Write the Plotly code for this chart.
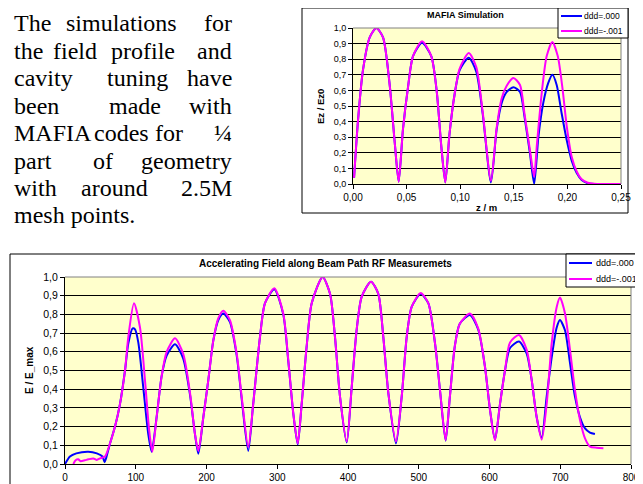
import plotly.graph_objects as go

# The page body has an 8px margin; the figure fills the rest of the 643x484 window.
PAGE_OFF = 8
W, H = 643 - PAGE_OFF, 484 - PAGE_OFF

# ---------------- data: MAFIA simulation (top chart) ----------------
sim_z_blue = [0.001, 0.0047, 0.0093, 0.0156, 0.0218, 0.028, 0.034, 0.039, 0.0426, 0.0466, 0.0513, 0.056,
              0.0644, 0.073, 0.078, 0.0824, 0.0861, 0.090, 0.0949, 0.0995, 0.108, 0.115, 0.121, 0.1287,
              0.134, 0.1387, 0.1434, 0.1496, 0.1558, 0.160, 0.165, 0.169, 0.1729, 0.1775, 0.182, 0.186,
              0.190, 0.1947, 0.1994, 0.204, 0.2087, 0.2133, 0.219, 0.225, 0.25]
sim_e_blue = [0.04, 0.41, 0.73, 0.94, 1.0, 0.94, 0.65, 0.26, 0.015, 0.35, 0.62, 0.82,
              0.905, 0.82, 0.60, 0.24, 0.01, 0.32, 0.58, 0.73, 0.81, 0.72, 0.45, 0.01,
              0.35, 0.52, 0.59, 0.62, 0.59, 0.43, 0.2, 0.0, 0.30, 0.52, 0.645, 0.70,
              0.635, 0.45, 0.28, 0.15, 0.07, 0.026, 0.005, 0.0, 0.0]
sim_z_mag = [0.001, 0.0047, 0.0093, 0.0156, 0.0218, 0.028, 0.034, 0.039, 0.0426, 0.0466, 0.0513, 0.056,
             0.0644, 0.073, 0.078, 0.0824, 0.0861, 0.090, 0.0949, 0.0995, 0.108, 0.115, 0.121, 0.1287,
             0.134, 0.1387, 0.1434, 0.1496, 0.1558, 0.160, 0.165, 0.169, 0.1714, 0.176, 0.1807, 0.186,
             0.191, 0.1953, 0.1994, 0.204, 0.2087, 0.2133, 0.219, 0.225, 0.25]
sim_e_mag = [0.04, 0.41, 0.73, 0.94, 1.0, 0.94, 0.65, 0.26, 0.015, 0.35, 0.62, 0.82,
             0.915, 0.82, 0.60, 0.24, 0.01, 0.32, 0.58, 0.74, 0.84, 0.75, 0.46, 0.02,
             0.36, 0.55, 0.63, 0.68, 0.635, 0.45, 0.22, 0.047, 0.24, 0.58, 0.82, 0.91,
             0.82, 0.62, 0.37, 0.175, 0.08, 0.03, 0.008, 0.002, 0.0]

# ---------------- data: RF measurements (bottom chart) ----------------
meas_x_blue = [0, 7, 16, 33, 45, 53, 56, 58, 63.6, 70.7, 77.7, 84.8, 89.5, 95.6, 99, 103.6, 110.6, 117.7,
               122.5, 129.5, 136.6, 143.7, 155.5, 167, 176.7, 183.7, 188.5, 195.5, 202.6, 209.6, 216.7,
               223.8, 233, 242.7, 249.7, 259, 266, 275.6, 282.7, 295.9, 308.5, 315.6, 322.7, 328.9,
               334.5, 341.6, 348.7, 364.2, 374.6, 381.6, 388.7, 398.2, 405.2, 412.3, 419.4, 432.5,
               442.8, 449.9, 457, 467.8, 475.9, 483, 490, 502.7, 513.5, 523, 530, 538, 544, 551, 558,
               572.4, 584, 593.6, 600.7, 607.8, 614.8, 621.9, 629, 641.7, 652.6, 659.6, 666.7, 673.8,
               680.8, 687.9, 695, 699.6, 706.7, 713.8, 720.8, 727.9, 735, 742, 749]
meas_e_blue = [0.0, 0.04, 0.057, 0.066, 0.057, 0.04, 0.01, 0.03, 0.11, 0.2, 0.32, 0.50, 0.645, 0.725, 0.72,
               0.65, 0.41, 0.16, 0.066, 0.25, 0.47, 0.58, 0.64, 0.565, 0.37, 0.16, 0.055, 0.25, 0.45,
               0.66, 0.77, 0.805, 0.76, 0.58, 0.35, 0.07, 0.32, 0.68, 0.86, 0.935, 0.80, 0.55, 0.27,
               0.105, 0.32, 0.63, 0.86, 1.0, 0.91, 0.68, 0.36, 0.115, 0.41, 0.72, 0.895, 0.975, 0.91,
               0.68, 0.38, 0.11, 0.36, 0.68, 0.84, 0.91, 0.86, 0.645, 0.395, 0.125, 0.36, 0.63, 0.75,
               0.797, 0.72, 0.52, 0.29, 0.13, 0.32, 0.50, 0.62, 0.655, 0.59, 0.45, 0.25, 0.14, 0.36,
               0.57, 0.73, 0.77, 0.715, 0.54, 0.36, 0.25, 0.19, 0.168, 0.16]
meas_x_mag = [11.8, 15, 18.8, 22, 28, 33, 40, 45, 49.5, 56.5, 63.6, 70.7, 77.7, 84.8, 89.5, 97.5, 106, 113,
              119, 123.4, 129.5, 136.6, 143.7, 155.5, 167, 176.7, 183.7, 188.5, 195.5, 202.6, 209.6,
              216.7, 223.8, 233, 242.7, 249.7, 259, 266, 275.6, 282.7, 295.9, 308.5, 315.6, 322.7,
              328.9, 334.5, 341.6, 348.7, 364.2, 374.6, 381.6, 388.7, 398.2, 405.2, 412.3, 419.4,
              432.5, 442.8, 449.9, 457, 467.8, 475.9, 483, 490, 502.7, 513.5, 523, 530, 538, 544, 551,
              558, 572.4, 584, 593.6, 600.7, 607.8, 614.8, 621.9, 629, 641.7, 652.6, 659.6, 666.7,
              673.8, 680.8, 687.9, 695, 699.6, 706.7, 713.8, 720.8, 727.9, 735, 742, 751.5, 761]
meas_e_mag = [0.0, 0.02, 0.025, 0.015, 0.02, 0.025, 0.03, 0.022, 0.03, 0.04, 0.11, 0.2, 0.32, 0.50, 0.68,
              0.86, 0.73, 0.45, 0.18, 0.066, 0.25, 0.47, 0.60, 0.672, 0.59, 0.38, 0.16, 0.07, 0.25,
              0.45, 0.66, 0.78, 0.82, 0.77, 0.59, 0.36, 0.09, 0.32, 0.68, 0.86, 0.94, 0.805, 0.556,
              0.27, 0.11, 0.32, 0.63, 0.86, 1.0, 0.91, 0.68, 0.36, 0.12, 0.41, 0.72, 0.895, 0.975,
              0.91, 0.68, 0.38, 0.12, 0.36, 0.68, 0.84, 0.915, 0.86, 0.645, 0.395, 0.128, 0.36, 0.63,
              0.75, 0.805, 0.725, 0.52, 0.29, 0.128, 0.32, 0.50, 0.65, 0.69, 0.61, 0.45, 0.25, 0.13,
              0.32, 0.645, 0.84, 0.89, 0.805, 0.61, 0.395, 0.235, 0.137, 0.093, 0.087, 0.084]

series_names = ["ddd=.000", "ddd=-.001"]
series_colors = ["#0000FF", "#FF00FF"]
sim_title = "MAFIA Simulation"
meas_title = "Accelerating Field along Beam Path RF Measuremets"
sim_xlabel, sim_ylabel, meas_ylabel = "z / m", "Ez / Ez0", "E / E_max"

para_lines = [
    ["The", "simulations", "for"],
    ["the", "field", "profile", "and"],
    ["cavity", "tuning", "have"],
    ["been", "made", "with"],
    ["MAFIA", "codes", "for", "¼"],
    ["part", "of", "geometry"],
    ["with", "around", "2.5M"],
    ["mesh points."],
]

# ---------------- layout helpers (window pixel -> paper fraction) ----------------
def px(x):
    return (x - PAGE_OFF) / W

def py(y):
    return 1 - (y - PAGE_OFF) / H

SANS = "Liberation Sans"
SERIF = "Liberation Serif"

fig = go.Figure()
for xs, ys, name, col, xa, ya in [
    (sim_z_blue, sim_e_blue, series_names[0], series_colors[0], "x", "y"),
    (sim_z_mag, sim_e_mag, series_names[1], series_colors[1], "x", "y"),
    (meas_x_blue, meas_e_blue, series_names[0], series_colors[0], "x2", "y2"),
    (meas_x_mag, meas_e_mag, series_names[1], series_colors[1], "x2", "y2"),
]:
    fig.add_trace(go.Scatter(x=xs, y=ys, name=name, mode="lines", xaxis=xa, yaxis=ya,
                             line=dict(color=col, width=2, shape="spline", smoothing=0.7),
                             showlegend=False, hoverinfo="skip"))

axis_common = dict(showline=True, linecolor="black", linewidth=1, ticks="outside", ticklen=4,
                   tickcolor="black", zeroline=False, fixedrange=True, automargin=False)

fig.update_layout(
    width=W, height=H, margin=dict(l=0, r=0, t=0, b=0, pad=0, autoexpand=False),
    autosize=False, showlegend=False,
    paper_bgcolor="white", plot_bgcolor="#FFFFCC",
    separators=",.",
    font=dict(family=SANS, color="black"),
    xaxis=dict(domain=[px(353), px(621)], range=[0, 0.25], tick0=0, dtick=0.05, tickformat=".2f",
               showgrid=False, anchor="y", tickfont=dict(size=10), **axis_common),
    yaxis=dict(domain=[py(184), py(28)], range=[0, 1], tick0=0, dtick=0.1, tickformat=".1f",
               showgrid=True, gridcolor="black", gridwidth=1, anchor="x", tickfont=dict(size=9),
               **axis_common),
    xaxis2=dict(domain=[px(65), px(631)], range=[0, 800], tick0=0, dtick=100,
                showgrid=False, anchor="y2", tickfont=dict(size=10), **axis_common),
    yaxis2=dict(domain=[py(464), py(277)], range=[0, 1], tick0=0, dtick=0.1, tickformat=".1f",
                showgrid=True, gridcolor="black", gridwidth=1, anchor="x2", tickfont=dict(size=10.5),
                **axis_common),
)

shapes = []
annots = []
# outer chart frames
shapes.append(dict(type="rect", xref="paper", yref="paper", x0=px(302), x1=px(628), y0=py(213), y1=py(8),
                   line=dict(color="black", width=1), layer="above"))
shapes.append(dict(type="rect", xref="paper", yref="paper", x0=px(10), x1=px(641), y0=py(492), y1=py(254),
                   line=dict(color="black", width=1), layer="above"))
# plot area borders (top, right) in gray
for xd, yd in [("x domain", "y domain"), ("x2 domain", "y2 domain")]:
    shapes.append(dict(type="line", xref=xd, yref=yd, x0=0, x1=1, y0=1, y1=1,
                       line=dict(color="#808080", width=1), layer="above"))
    shapes.append(dict(type="line", xref=xd, yref=yd, x0=1, x1=1, y0=0, y1=1,
                       line=dict(color="#808080", width=1), layer="above"))

# legends
def add_legend(x0, y0, x1, y1, lx0, lx1, tx, ys, fs):
    shapes.append(dict(type="rect", xref="paper", yref="paper", x0=px(x0), x1=px(x1), y0=py(y1), y1=py(y0),
                       fillcolor="white", line=dict(color="black", width=1), layer="above"))
    for name, col, yy in zip(series_names, series_colors, ys):
        shapes.append(dict(type="line", xref="paper", yref="paper", x0=px(lx0), x1=px(lx1), y0=py(yy), y1=py(yy),
                           line=dict(color=col, width=2), layer="above"))
        annots.append(dict(text=name, xref="paper", yref="paper", x=px(tx), y=py(yy), xanchor="left",
                           yanchor="middle", showarrow=False, font=dict(family=SANS, size=fs)))

add_legend(558, 8, 628, 38, 561, 582, 582, [16, 31], 8.5)
add_legend(566, 254, 641, 287, 569, 592, 594, [263, 279], 9)

# titles
annots.append(dict(text="<b>" + sim_title + "</b>", xref="paper", yref="paper", x=px(465), y=py(15),
                   xanchor="center", yanchor="middle", showarrow=False, font=dict(family=SANS, size=9)))
annots.append(dict(text="<b>" + meas_title + "</b>", xref="paper", yref="paper", x=px(325), y=py(263),
                   xanchor="center", yanchor="middle", showarrow=False, font=dict(family=SANS, size=10)))
annots.append(dict(text="<b>" + sim_xlabel + "</b>", xref="paper", yref="paper", x=px(487), y=py(207),
                   xanchor="center", yanchor="middle", showarrow=False, font=dict(family=SANS, size=9.5)))
annots.append(dict(text="<b>" + sim_ylabel + "</b>", xref="paper", yref="paper", x=px(320), y=py(107),
                   xanchor="center", yanchor="middle", showarrow=False, textangle=-90,
                   font=dict(family=SANS, size=9.5)))
annots.append(dict(text="<b>" + meas_ylabel + "</b>", xref="paper", yref="paper", x=px(29), y=py(370),
                   xanchor="center", yanchor="middle", showarrow=False, textangle=-90,
                   font=dict(family=SANS, size=10)))

# justified paragraph (word left edges in px; None = right-aligned to the column edge)
word_left = [
    [13, 65, None],
    [13, 52, 110, None],
    [13, 106, None],
    [13, 108, None],
    [13, 93, 154, None],
    [13, 92, None],
    [13, 80, None],
    [13],
]
for i, (words, lefts) in enumerate(zip(para_lines, word_left)):
    yc = 23.5 + 27.4 * i
    for w, lx in zip(words, lefts):
        if lx is None:
            annots.append(dict(text=w, xref="paper", yref="paper", x=px(233), y=py(yc), xanchor="right",
                               yanchor="middle", showarrow=False, borderpad=0,
                               font=dict(family=SERIF, size=24)))
        else:
            annots.append(dict(text=w, xref="paper", yref="paper", x=px(lx), y=py(yc), xanchor="left",
                               yanchor="middle", showarrow=False, borderpad=0,
                               font=dict(family=SERIF, size=24)))

fig.update_layout(shapes=shapes, annotations=annots)
fig.write_html("out.html")
